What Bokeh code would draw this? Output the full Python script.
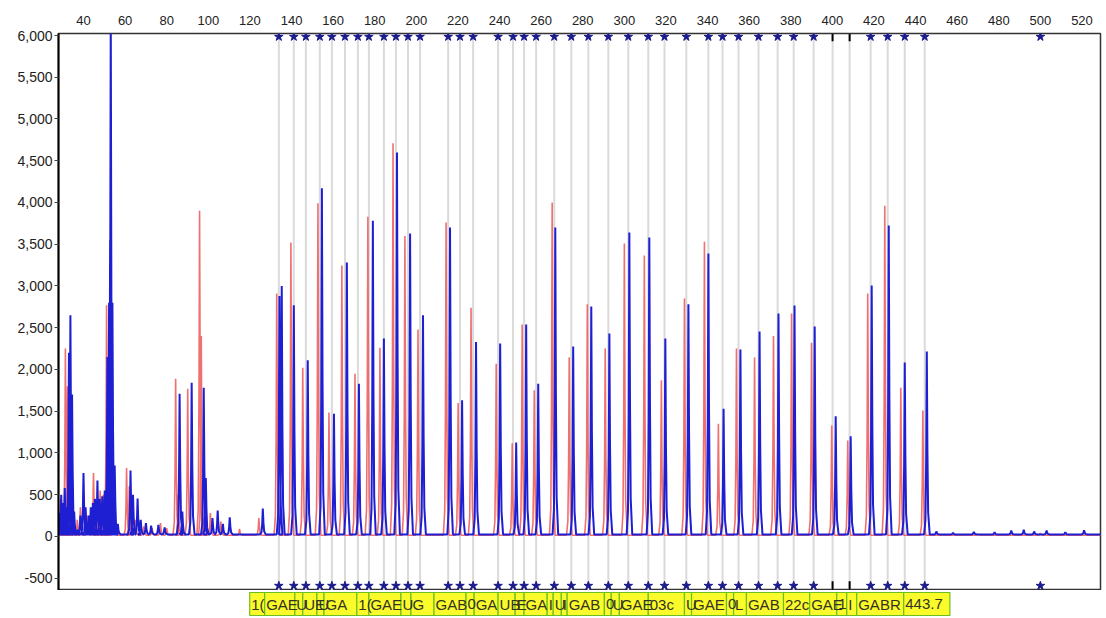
from bokeh.plotting import figure
from bokeh.layouts import column
from bokeh.models import Range1d, FixedTicker, NumeralTickFormatter
from bokeh.embed import file_html
from bokeh.resources import INLINE

# ---------------- data ----------------
x_ticks = list(range(40, 521, 20))
y_ticks = list(range(-500, 6001, 500))

red_pos = [29.0, 30.2, 31.3, 32.3, 33.5, 35.5, 37.0, 38.5, 42.0, 44.8, 46.0, 48.0, 49.5,
           51.1, 52.0, 54.5, 60.7, 62.0, 65.0, 69.0, 73.0, 77.0, 80.0, 84.3, 85.5, 90.1,
           95.8, 96.6, 101.0, 106.0, 115.0, 124.3,
           132.9, 139.7, 145.4, 152.7, 158.0, 164.2, 170.5, 176.7, 182.5, 188.8, 194.5,
           200.8, 214.3, 220.1, 226.3, 238.4, 246.1, 250.9, 256.7, 265.3, 273.5, 282.2,
           290.8, 300.0, 309.6, 317.8, 328.9, 338.5, 345.2, 353.9, 362.6, 371.7, 380.4,
           390.0, 399.7, 407.4, 417.0, 425.2, 432.9, 443.5, 470.0, 500.0]
red_height = [450, 250, 2250, 1800, 600, 120, 200, 350, 250, 760, 350, 550, 500,
              2770, 2150, 300, 820, 600, 200, 120, 100, 160, 100, 1890, 500, 1770,
              3900, 2400, 280, 180, 90, 220,
              2910, 3520, 2020, 3990, 1485, 3245, 1950, 3830, 2260, 4710, 3600,
              2480, 3760, 1600, 2740, 2070, 1115, 2540, 1750, 4000, 2145, 2780,
              2250, 3510, 3365, 1870, 2850, 3530, 1350, 2250, 2145, 2400, 2670,
              2320, 1330, 1150, 2910, 3960, 1780, 1510, 30, 40]

blue_pos = [28.5, 29.3, 30.3, 31.0, 32.0, 33.0, 33.7, 34.5, 35.5, 37.0, 38.5, 40.0, 41.0,
            42.5, 43.5, 44.5, 45.5, 46.7, 47.8, 49.0, 50.2, 51.5, 52.3, 52.8, 53.1, 53.9,
            55.0, 56.5, 62.6, 63.8, 66.0, 67.5, 70.0, 72.5, 76.0, 79.0, 86.2, 87.5, 92.0,
            97.8, 98.8, 102.0, 104.5, 107.0, 110.3, 126.2,
            134.2, 135.3, 141.1, 147.8, 154.6, 160.4, 166.6, 172.4, 179.1, 184.4, 190.7,
            197.0, 203.2, 216.2, 222.0, 228.7, 240.3, 248.0, 252.8, 258.6, 266.8, 275.4,
            284.1, 292.8, 302.4, 312.0, 319.7, 330.8, 340.4, 347.7, 355.8, 365.0, 374.1,
            381.8, 391.5, 401.6, 408.8, 418.9, 427.1, 434.8, 445.4,
            450.0, 458.0, 468.0, 478.0, 486.0, 492.0, 497.0, 503.0, 512.0, 521.0]
blue_height = [280, 500, 400, 580, 350, 2200, 2650, 1700, 300, 80, 250, 760, 350,
               250, 350, 400, 450, 670, 450, 480, 550, 2150, 2800, 3550, 6300, 2800,
               850, 150, 790, 500, 455, 200, 160, 130, 140, 110, 1710, 300, 1840,
               1780, 700, 220, 310, 150, 230, 335,
               2880, 3000, 2770, 2110, 4170, 1470, 3280, 1830, 3780, 2370, 4600,
               3630, 2650, 3700, 1630, 2330, 2310, 1125, 2540, 1830, 3700, 2275,
               2755, 2430, 3640, 3580, 2370, 2780, 3390, 1530, 2240, 2455, 2670,
               2765, 2515, 1440, 1200, 3005, 3725, 2085, 2215,
               60, 45, 55, 50, 70, 80, 60, 70, 50, 75]

bin_pos = [133.9, 141.1, 146.9, 153.6, 159.4, 165.7, 171.9, 177.2, 184.4, 190.2, 196.0,
           201.8, 215.3, 221.0, 227.3, 239.3, 246.5, 251.8, 257.6, 266.3, 274.5, 282.7,
           292.3, 301.9, 311.5, 319.3, 329.8, 340.4, 347.2, 354.9, 364.5, 373.7, 381.4,
           391.0, 400.1, 408.3, 418.4, 426.6, 434.8, 444.4]
black_mark_pos = [400.1, 408.3]
extra_star_pos = [500.0]

label_text = ["1(", "GAE", "U", "UE", "U", "GA", "1(", "GAE", "U", "G", "GAB", "0", "GA",
              "UB", "E", "GA", "I", "U", "I", "GAB", "0", "U", "GAE", "03c", "U", "GAE",
              "0", "L", "GAB", "22c", "GAE", "1", "I", "GABR", "443.7"]
label_left = [119.9, 127.1, 141.6, 145.4, 152.2, 155.6, 171.4, 177.2, 192.6, 197.4,
              208.5, 223.9, 227.8, 239.3, 247.5, 251.8, 262.9, 265.8, 269.7, 272.5,
              290.4, 293.7, 297.6, 311.5, 328.9, 332.3, 349.1, 352.5, 358.7, 376.5,
              389.1, 402.1, 406.9, 411.7, 434.3]
label_end = 456.5

# ---------------- helpers ----------------
X0, X1 = 27.98, 528.9
Y0, Y1 = -647, 6024


def trace(pos, hts, base):
    xs, ys = [X0 - 1], [base]
    for c, h in sorted(zip(pos, hts)):
        d = h - base
        xs += [c - 1.3, c - 0.65, c - 0.3, c, c + 0.3, c + 0.65, c + 1.4]
        ys += [base, base + 0.08 * d, base + 0.4 * d, h, base + 0.45 * d,
               base + 0.12 * d, base]
    xs.append(X1 + 1)
    ys.append(base)
    return xs, ys


xr = Range1d(X0, X1)

p = figure(width=1106, height=590, x_range=xr, y_range=Range1d(Y0, Y1),
           output_backend="svg", toolbar_location=None, x_axis_location="above",
           min_border_left=58, min_border_right=6, min_border_top=33, min_border_bottom=0)
p.xgrid.visible = False
p.ygrid.visible = False
p.background_fill_color = "white"
p.border_fill_color = "white"
p.outline_line_color = "#333333"
p.outline_line_width = 1.5

# top axis
xa = p.xaxis[0]
xa.ticker = FixedTicker(ticks=x_ticks)
xa.major_tick_out = 0
xa.major_tick_in = 0
xa.minor_tick_out = 0
xa.minor_tick_in = 0
xa.axis_line_color = None
xa.major_label_standoff = 9
xa.major_label_text_font = "Liberation Sans"
xa.major_label_text_font_size = "13px"
xa.major_label_text_color = "#222222"

ya = p.yaxis[0]
ya.ticker = FixedTicker(ticks=y_ticks)
ya.formatter = NumeralTickFormatter(format="0,0")
ya.major_tick_out = 4
ya.major_tick_in = 0
ya.minor_tick_out = 0
ya.minor_tick_in = 0
ya.axis_line_color = "black"
ya.axis_line_width = 2
ya.major_tick_line_color = "#444444"
ya.major_label_standoff = 2
ya.major_label_text_font = "Liberation Sans"
ya.major_label_text_font_size = "14px"
ya.major_label_text_color = "#222222"

# bin lines
p.segment(x0=bin_pos, y0=[Y0] * len(bin_pos), x1=bin_pos, y1=[Y1] * len(bin_pos),
          line_color="#dadada", line_width=2)

# traces
rx, ry = trace(red_pos, red_height, 15)
bx, by = trace(blue_pos, blue_height, 25)
p.line(rx, ry, line_color="#ee6060", line_width=1.6, line_alpha=0.9)
p.line(bx, by, line_color="#1e1ed2", line_width=2.0)

# markers
star_pos = [b for b in bin_pos if b not in black_mark_pos] + extra_star_pos
p.scatter(star_pos, [5985] * len(star_pos), marker="star", size=9,
          fill_color="#1c1c8c", line_color="#1c1c8c")
p.scatter(star_pos, [-590] * len(star_pos), marker="star", size=9,
          fill_color="#1c1c8c", line_color="#1c1c8c")
p.scatter(black_mark_pos, [5985] * 2, marker="dash", angle=1.5708, size=9,
          line_color="black", line_width=2)
p.scatter(black_mark_pos, [-590] * 2, marker="dash", angle=1.5708, size=9,
          line_color="black", line_width=2)

# label strip
s = figure(width=1106, height=28, x_range=xr, y_range=Range1d(0, 28),
           output_backend="svg", toolbar_location=None,
           min_border_left=58, min_border_right=6, min_border_top=0, min_border_bottom=0)
s.axis.visible = False
s.xgrid.visible = False
s.ygrid.visible = False
s.outline_line_color = None
label_right = label_left[1:] + [label_end]
s.quad(left=label_left, right=label_right, bottom=[3] * len(label_left),
       top=[26] * len(label_left),
       fill_color="#fbfb2c", line_color="#6cbf1f", line_width=1.2)
s.text(x=label_left, y=[14.5] * len(label_left), text=label_text, x_offset=1.5,
       text_align="left", text_baseline="middle", text_font_size="15px",
       text_color="#333322", text_font={"value": "Liberation Sans"})

layout = column(p, s, spacing=0)
open("out.html", "w").write(file_html(layout, INLINE))
